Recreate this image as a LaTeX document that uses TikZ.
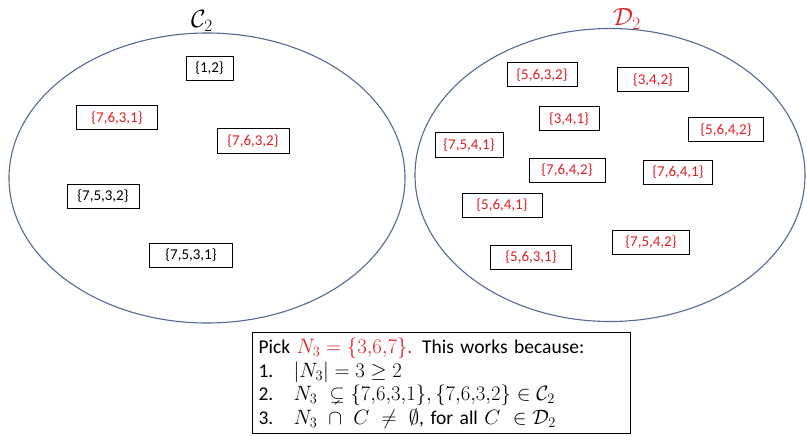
\documentclass[tikz,border=0pt]{standalone}
\usepackage{amsmath,amssymb}
\usepackage{fontspec}
\setmainfont{Carlito}
\definecolor{setred}{RGB}{225,30,35}
\definecolor{ringblue}{RGB}{85,105,145}
\begin{document}
\begin{tikzpicture}[x=1pt,y=-1pt,
  setbox/.style={draw=black,line width=1pt,minimum height=24pt,inner sep=0pt,font=\fontsize{15}{16}\selectfont},
  redset/.style={setbox,text=setred},
  ring/.style={draw=ringblue,line width=1.1pt},
  ringlabel/.style={inner sep=0pt,font=\fontsize{24}{26}\selectfont}]
\useasboundingbox (0,0) rectangle (807,436);
% ellipses
\draw[ring] (207,178) ellipse [x radius=198pt, y radius=145pt];
\draw[ring] (610,175) ellipse [x radius=195pt, y radius=146.5pt];
\node[ringlabel] (Clab) at (202,21) {$\mathcal{C}_2$};
\node[ringlabel,text=setred] (Dlab) at (627,19) {$\mathcal{D}_2$};
% left sets
\node[setbox,minimum width=47pt] (s12) at (209.5,68.5) {\{1,2\}};
\node[redset,minimum width=81pt] (s7631) at (117,118) {\{7,6,3,1\}};
\node[redset,minimum width=72pt] (s7632) at (253,141) {\{7,6,3,2\}};
\node[setbox,minimum width=72pt] (s7532) at (103,196) {\{7,5,3,2\}};
\node[setbox,minimum width=83pt] (s7531) at (191,255) {\{7,5,3,1\}};
% right sets
\node[redset,minimum width=70pt] (s5632) at (542,75) {\{5,6,3,2\}};
\node[redset,minimum width=71pt] (s342) at (653,80) {\{3,4,2\}};
\node[redset,minimum width=60pt] (s341) at (569,119) {\{3,4,1\}};
\node[redset,minimum width=75pt] (s5642) at (726,130) {\{5,6,4,2\}};
\node[redset,minimum width=68pt] (s7541) at (469,145) {\{7,5,4,1\}};
\node[redset,minimum width=76pt] (s7642) at (567,170) {\{7,6,4,2\}};
\node[redset,minimum width=69pt] (s7641) at (678,172) {\{7,6,4,1\}};
\node[redset,minimum width=80pt] (s5641) at (502,205) {\{5,6,4,1\}};
\node[redset,minimum width=77pt] (s7542) at (651,242) {\{7,5,4,2\}};
\node[redset,minimum width=81pt] (s5631) at (531,257) {\{5,6,3,1\}};
% explanation box
\node[draw=black,line width=1pt,anchor=north west,align=left,text width=366pt,minimum height=101pt,
      inner xsep=6pt,inner ysep=0pt,font=\fontsize{19.5}{23.5}\selectfont] (box) at (252,332)
{Pick \textcolor{setred}{$N_3=\{3{,}6{,}7\}$.} This works because:\\
\makebox[35pt][l]{1.}$|N_3|=3\geq 2$\\
\makebox[35pt][l]{2.}$N_3\ \subsetneq\{7{,}6{,}3{,}1\},\{7{,}6{,}3{,}2\}\in\mathcal{C}_2$\\
\makebox[35pt][l]{3.}$N_3\ \cap\ C\ \neq\ \emptyset$, for all $C\ \in\mathcal{D}_2$};
\end{tikzpicture}
\end{document}
